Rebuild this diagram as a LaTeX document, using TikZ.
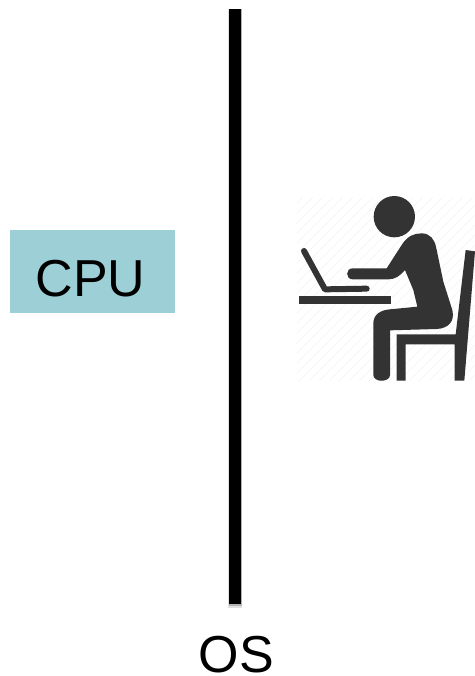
\documentclass[tikz,border=0pt]{standalone}
\usepackage{fontspec}
\setmainfont{Liberation Sans}
\usepackage{xcolor}
\usepackage{tikz}
\usetikzlibrary{calc}
\definecolor{cputeal}{HTML}{9CD0D6}
\definecolor{icongray}{HTML}{333333}
\definecolor{hatchgray}{HTML}{F6F6F6}

\begin{document}
\begin{tikzpicture}[x=0.75pt,y=-0.75pt,every node/.style={font=\fontsize{39}{39}\selectfont,inner sep=0pt}]
\tikzstyle{cpubox}=[fill=cputeal,minimum width=123.75pt,text height=49.9pt,text depth=12.4pt,align=center]
\tikzstyle{icon}=[fill=icongray,draw=none]
\tikzstyle{wire}=[draw=icongray,line width=4.5pt,line cap=round,line join=round]
\useasboundingbox (0,0) rectangle (475,676);
\node[cpubox] (cpu) at (92.5,271.5) {CPU\kern3pt};
\node[anchor=base] (os) at (236.5,672.5) {OS};
\coordinate (bartop) at (235,9);
\coordinate (barbot) at (235,604);
% soft edge of the bar
\draw[black!12,line width=10.5pt] (bartop) -- ($(barbot)+(0,4)$);
\draw[black!30,line width=9.75pt] (bartop) -- ($(barbot)+(0,2)$);
\draw[black,line width=8.75pt] (bartop) -- (barbot);
% person at the desk
\begin{scope}[shift={(290,190)},x=0.25pt,y=-0.25pt]
\begin{scope}
\clip (20,22) rectangle (555,572);
\foreach \i in {0,30,...,1150} {
  \draw[hatchgray,line width=0.6pt] (\i,0) -- (\i-600,600);
}
\end{scope}
\fill[icon] (313,80) circle (62);
\draw[wire] (42,183) -- (105,298) -- (230,296);
\fill[icon] (28,319) rectangle (303,343);
% body, arm and leg
\fill[icon] (188,235) -- (290,235) -- (335,165)
  .. controls (352,138) and (372,130) .. (395,130)
  .. controls (420,130) and (433,148) .. (438,170)
  -- (460,275) -- (487,360)
  .. controls (495,395) and (475,415) .. (440,417)
  -- (300,421) -- (300,555)
  .. controls (300,578) and (250,578) .. (250,555)
  -- (250,400)
  .. controls (250,375) and (270,360) .. (300,358)
  -- (382,350) -- (370,300) -- (345,240)
  .. controls (330,258) and (315,268) .. (295,268)
  -- (188,268)
  .. controls (166,268) and (166,235) .. (188,235) -- cycle;
% chair
\fill[icon] (527,180) -- (555,184) -- (523,572) -- (494,572) -- (494,463)
  -- (347,463) -- (347,572) -- (320,572) -- (320,433) -- (497,433) -- cycle;
\end{scope}
\end{tikzpicture}
\end{document}
